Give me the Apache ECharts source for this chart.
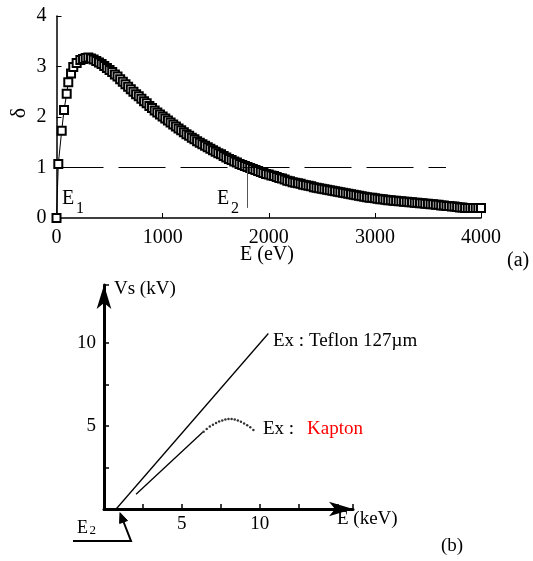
<!DOCTYPE html>
<html>
<head>
<meta charset="utf-8">
<script src="https://cdn.jsdelivr.net/npm/echarts@6/dist/echarts.min.js"></script>
<style>
  html, body { margin: 0; padding: 0; background: #fff; }
  #chart { width: 533px; height: 561px; }
</style>
</head>
<body>
<div id="chart"></div>
<script>
// (a) secondary emission yield delta vs primary energy E (eV)
const energyEv = [0, 17, 49, 71, 96, 111, 137, 158, 190,
  225, 250, 275, 300, 325, 350, 375, 400, 425, 450, 475, 500, 525, 550, 575, 600,
  625, 650, 675, 700, 725, 750, 775, 800, 825, 850, 875, 900, 925, 950, 975, 1000,
  1025, 1050, 1075, 1100, 1125, 1150, 1175, 1200, 1225, 1250, 1275, 1300, 1325, 1350,
  1375, 1400, 1425, 1450, 1475, 1500, 1525, 1550, 1575, 1600, 1625, 1650, 1675, 1700,
  1725, 1750, 1775, 1800, 1825, 1850, 1875, 1900, 1925, 1950, 1975, 2000,
  2025, 2050, 2075, 2100, 2125, 2150, 2175, 2200, 2225, 2250, 2275, 2300, 2325, 2350,
  2375, 2400, 2425, 2450, 2475, 2500, 2525, 2550, 2575, 2600, 2625, 2650, 2675, 2700,
  2725, 2750, 2775, 2800, 2825, 2850, 2875, 2900, 2925, 2950, 2975, 3000,
  3025, 3050, 3075, 3100, 3125, 3150, 3175, 3200, 3225, 3250, 3275, 3300, 3325, 3350,
  3375, 3400, 3425, 3450, 3475, 3500, 3525, 3550, 3575, 3600, 3625, 3650, 3675, 3700,
  3725, 3750, 3775, 3800, 3825, 3850, 3875, 3900, 3925, 3950, 3975, 4000];
const deltaValues = [0, 1.07, 1.73, 2.14, 2.46, 2.69, 2.86, 2.99, 3.07,
  3.13, 3.15, 3.17, 3.18, 3.16, 3.14, 3.11, 3.08, 3.05, 3.01, 2.97, 2.93, 2.89, 2.84, 2.80, 2.75,
  2.70, 2.65, 2.60, 2.55, 2.50, 2.45, 2.41, 2.36, 2.31, 2.27, 2.22, 2.18, 2.13, 2.09, 2.05, 2.01,
  1.97, 1.93, 1.89, 1.85, 1.81, 1.77, 1.74, 1.70, 1.66, 1.63, 1.59, 1.56, 1.52, 1.49,
  1.46, 1.43, 1.40, 1.37, 1.34, 1.31, 1.28, 1.26, 1.23, 1.20, 1.17, 1.15, 1.12, 1.10,
  1.07, 1.05, 1.03, 1.01, 0.99, 0.97, 0.95, 0.93, 0.91, 0.89, 0.87, 0.86,
  0.84, 0.83, 0.81, 0.79, 0.78, 0.76, 0.74, 0.73, 0.71, 0.70, 0.69, 0.68, 0.66, 0.65,
  0.64, 0.63, 0.61, 0.60, 0.59, 0.58, 0.57, 0.56, 0.55, 0.54, 0.53, 0.52, 0.51, 0.50,
  0.49, 0.48, 0.47, 0.46, 0.45, 0.44, 0.43, 0.42, 0.41, 0.40, 0.40, 0.39,
  0.38, 0.37, 0.37, 0.36, 0.35, 0.35, 0.34, 0.34, 0.33, 0.33, 0.32, 0.32, 0.31, 0.31,
  0.30, 0.30, 0.29, 0.29, 0.28, 0.28, 0.27, 0.27, 0.26, 0.26, 0.25, 0.25, 0.24, 0.24,
  0.23, 0.23, 0.22, 0.21, 0.21, 0.20, 0.20, 0.20, 0.20, 0.20, 0.20, 0.20];
const unityLevel = 1;
const unityEnd = 3670;
const e2Ev = 1800;
const e2LineBottom = 0.2;

// (b) surface potential Vs (kV) vs E (keV)
const teflonE = [0.78, 10.56];
const teflonVs = [0, 10.58];
const kaptonLineE = [2.06, 6.34];
const kaptonLineVs = [0.89, 4.62];
const kaptonDotE = [6.4, 6.6, 6.8, 7.0, 7.2, 7.4, 7.6, 7.8, 8.0, 8.2, 8.4, 8.6, 8.8, 9.0, 9.2, 9.4, 9.6];
const kaptonDotVs = [4.66, 4.82, 4.97, 5.08, 5.18, 5.27, 5.34, 5.39, 5.42, 5.42, 5.39, 5.34, 5.26, 5.16, 5.04, 4.92, 4.76];

const FONT = "'Liberation Serif', 'DejaVu Serif', serif";

function zip(xs, ys) {
    return xs.map(function (x, i) { return [x, ys[i]]; });
}

function txt(text, x, y, size, color, align) {
    return {
        type: 'text',
        style: {
            text: text, x: x, y: y,
            font: size + 'px ' + FONT,
            fill: color || '#000',
            textAlign: align || 'left',
            textVerticalAlign: 'middle'
        }
    };
}

const chart = echarts.init(document.getElementById('chart'));

const option = {
    animation: false,
    backgroundColor: '#fff',
    grid: [
        { left: 56.5, right: 52, top: 16, bottom: 343, containLabel: false, outerBoundsMode: 'none' },
        { left: 104, width: 249, top: 285, bottom: 52, containLabel: false, outerBoundsMode: 'none' }
    ],
    xAxis: [
        {
            gridIndex: 0, type: 'value', min: 0, max: 4000, interval: 1000,
            axisLine: { lineStyle: { color: '#000', width: 1.5 } },
            axisTick: { inside: true, length: 5, lineStyle: { color: '#000' } },
            axisLabel: { fontFamily: FONT, fontSize: 20, color: '#000', margin: 10,
                formatter: function (v) { return String(v); } },
            splitLine: { show: false }
        },
        {
            gridIndex: 1, type: 'value', min: 0, max: 16, interval: 2.5,
            axisLine: { onZero: false, symbol: ['none', 'arrow'], symbolSize: [11, 24],
                lineStyle: { color: '#000', width: 3 } },
            axisTick: { inside: true, length: 5, lineStyle: { color: '#000', width: 1.5 } },
            axisLabel: {
                fontFamily: FONT, fontSize: 19, color: '#000', margin: 6,
                formatter: function (v) { return (v === 5 || v === 10) ? String(v) : ''; }
            },
            splitLine: { show: false }
        }
    ],
    yAxis: [
        {
            gridIndex: 0, type: 'value', min: 0, max: 4, interval: 1,
            axisLine: { lineStyle: { color: '#000', width: 1.5 } },
            axisTick: { inside: true, length: 5, lineStyle: { color: '#000' } },
            axisLabel: { fontFamily: FONT, fontSize: 20, color: '#000', margin: 10 },
            splitLine: { show: false }
        },
        {
            gridIndex: 1, type: 'value', min: 0, max: 13.5, interval: 2.5,
            axisLine: { onZero: false, symbol: ['none', 'arrow'], symbolSize: [11, 24],
                lineStyle: { color: '#000', width: 3 } },
            axisTick: { inside: true, length: 5, lineStyle: { color: '#000', width: 1.5 } },
            axisLabel: {
                fontFamily: FONT, fontSize: 19, color: '#000', margin: 8,
                formatter: function (v) { return (v === 5 || v === 10) ? String(v) : ''; }
            },
            splitLine: { show: false }
        }
    ],
    series: [
        {
            name: 'delta', type: 'line', xAxisIndex: 0, yAxisIndex: 0,
            data: zip(energyEv, deltaValues),
            symbol: 'emptyRect', symbolSize: 8, showAllSymbol: true,
            itemStyle: { color: '#000', borderColor: '#000', borderWidth: 1 },
            lineStyle: { color: '#000', width: 1, type: 'solid' },
            z: 3
        },
        {
            name: 'guides', type: 'line', xAxisIndex: 0, yAxisIndex: 0,
            data: [], symbol: 'none',
            markLine: {
                silent: true, symbol: 'none', label: { show: false },
                lineStyle: { color: '#000', width: 1, type: [47, 15] },
                data: [
                    [{ coord: [0, unityLevel] }, { coord: [unityEnd, unityLevel] }],
                    [{ coord: [e2Ev, unityLevel], lineStyle: { color: '#555', width: 1, type: 'solid' } },
                     { coord: [e2Ev, e2LineBottom] }]
                ]
            }
        },
        {
            name: 'Teflon', type: 'line', xAxisIndex: 1, yAxisIndex: 1,
            data: zip(teflonE, teflonVs), symbol: 'none',
            lineStyle: { color: '#000', width: 1.3 }
        },
        {
            name: 'Kapton line', type: 'line', xAxisIndex: 1, yAxisIndex: 1,
            data: zip(kaptonLineE, kaptonLineVs), symbol: 'none',
            lineStyle: { color: '#000', width: 1.3 }
        },
        {
            name: 'Kapton dots', type: 'scatter', xAxisIndex: 1, yAxisIndex: 1,
            data: zip(kaptonDotE, kaptonDotVs), symbol: 'circle', symbolSize: 2.5,
            itemStyle: { color: '#000' }
        }
    ],
    graphic: [
        {
            type: 'text', x: 19, y: 113, rotation: Math.PI / 2,
            style: { text: 'δ', font: '22px ' + FONT, fill: '#000',
                textAlign: 'center', textVerticalAlign: 'middle' }
        },
        txt('E (eV)', 267, 255, 20, '#000', 'center'),
        txt('E', 62, 199, 20),
        txt('1', 76, 209, 16),
        txt('E', 217, 199, 20),
        txt('2', 231, 209, 16),
        txt('(a)', 507, 261, 20),
        txt('Vs (kV)', 114, 289, 19),
        txt('Ex : Teflon 127µm', 273, 341, 19),
        txt('Ex :', 263, 429, 19),
        txt('Kapton', 307, 429, 19, '#ff0000'),
        txt('E (keV)', 337, 519, 19),
        txt('(b)', 441, 546, 19),
        txt('E', 77, 528, 18),
        txt('2', 89.5, 531, 13),
        {
            type: 'polyline',
            shape: { points: [[73, 541], [131, 541], [123.6, 522]] },
            style: { stroke: '#000', lineWidth: 2, fill: null }
        },
        {
            type: 'polygon',
            shape: { points: [[120, 512.7], [127.5, 520.6], [119.6, 523.4]] },
            style: { fill: '#000', stroke: '#000', lineWidth: 1 }
        }
    ]
};

chart.setOption(option);
</script>
</body>
</html>
